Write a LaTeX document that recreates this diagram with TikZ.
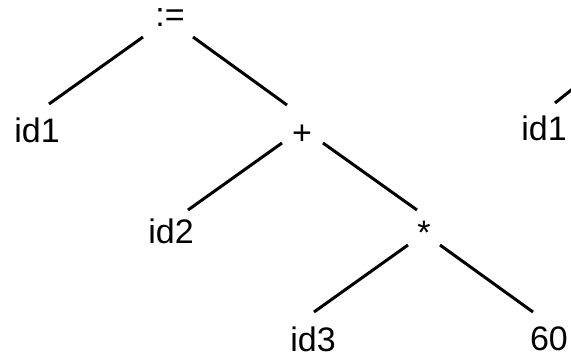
\documentclass[tikz,border=0pt]{standalone}
\usepackage{fontspec}
\setmainfont{Liberation Sans}
\usetikzlibrary{positioning}

\tikzset{
  sym/.style={anchor=center,inner sep=0pt,font=\fontsize{34}{40}\selectfont},
  edge/.style={line width=3pt,line cap=butt}
}

\begin{document}
\begin{tikzpicture}[x=1pt,y=-1pt]
\path[use as bounding box] (0,0) rectangle (571,357);
\clip (0,0) rectangle (571,357);
% tree nodes
\node[sym] (assign) at (170,18) {:=};
\node[sym] (idA) at (37,130) {id1};
\node[sym] (plus) at (302,135) {+};
\node[sym] (idB) at (171,231) {id2};
\node[sym] (times) at (424,233) {*};
\node[sym] (idC) at (313,339) {id3};
\node[sym] (sixty) at (549,339) {60};
\node[sym] (idR) at (544,128) {id1};
\coordinate (cut) at (580,83);
% edges
\draw[edge] ([shift={(-27,19)}]assign.center) -- ([shift={(12,-26)}]idA.center);
\draw[edge] ([shift={(23,19)}]assign.center) -- ([shift={(-15,-30)}]plus.center);
\draw[edge] ([shift={(-20,8)}]plus.center) -- ([shift={(17,-21)}]idB.center);
\draw[edge] ([shift={(21,8)}]plus.center) -- ([shift={(-7,-23)}]times.center);
\draw[edge] ([shift={(-16,12)}]times.center) -- ([shift={(1,-27)}]idC.center);
\draw[edge] ([shift={(16,12)}]times.center) -- ([shift={(-16,-27)}]sixty.center);
\draw[edge] ([shift={(11,-25)}]idR.center) -- (cut);
\end{tikzpicture}
\end{document}
